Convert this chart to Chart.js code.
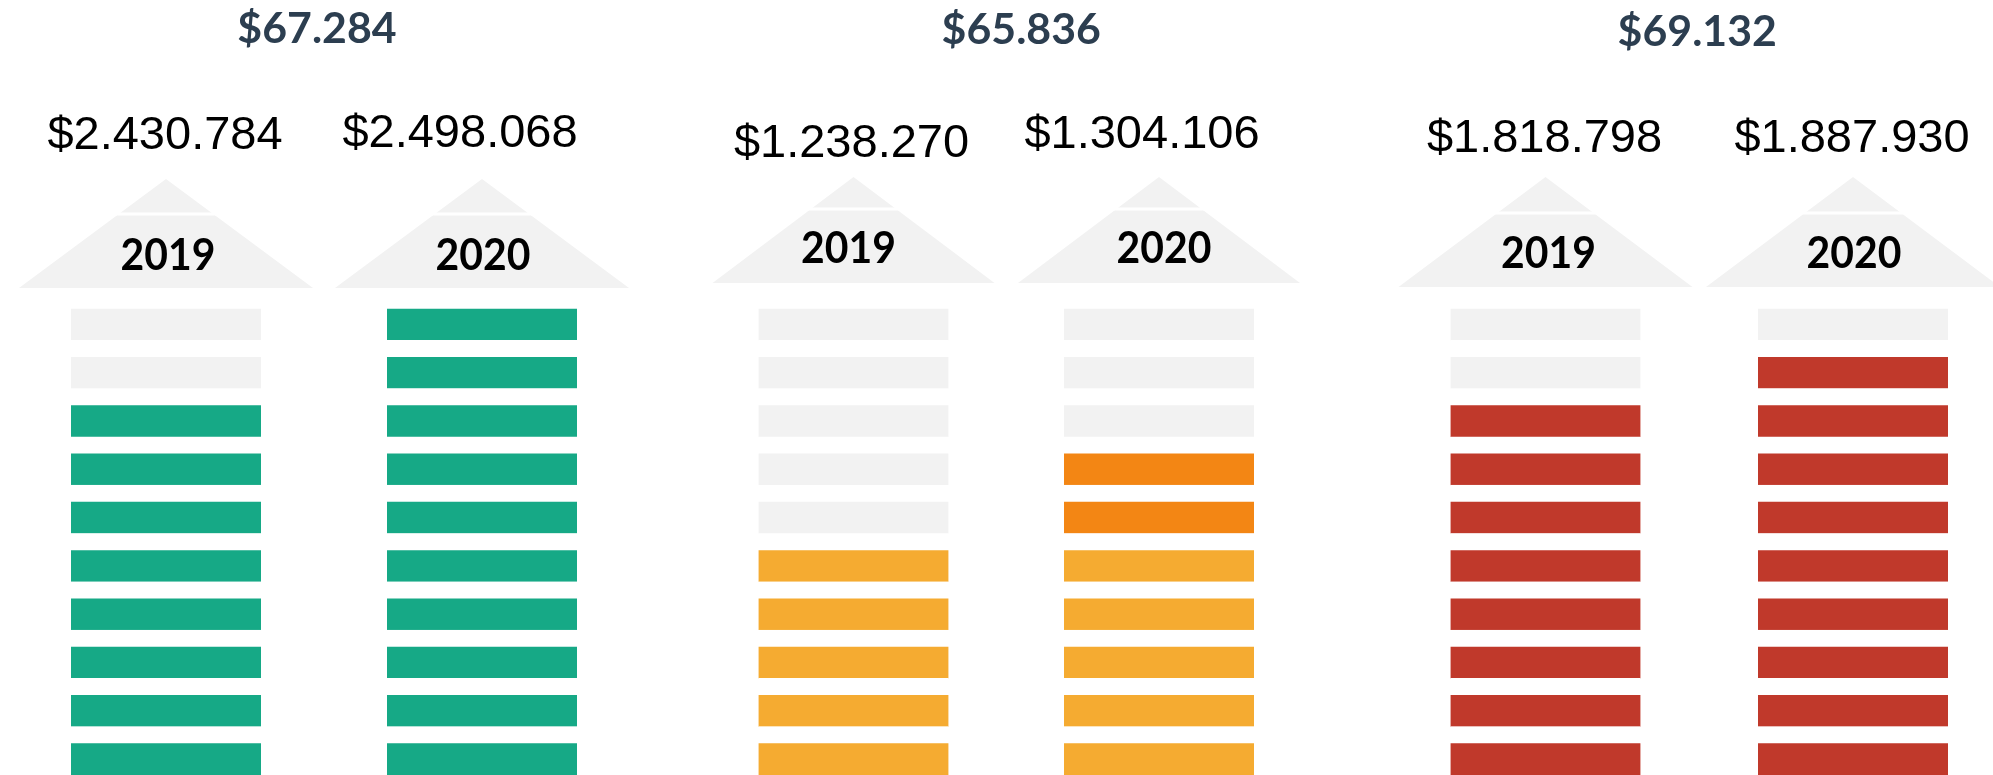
<!DOCTYPE html>
<html>
<head>
<meta charset="utf-8">
<script src="https://cdn.jsdelivr.net/npm/chart.js@4.4.1/dist/chart.umd.min.js"></script>
<style>
    html, body { margin: 0; padding: 0; background: #ffffff; overflow: hidden; }
    .panel { position: absolute; left: 0; top: 0; width: 1993px; height: 775px; }
</style>
</head>
<body>
<div class="panel"><canvas id="panel0"></canvas></div>
<div class="panel"><canvas id="panel1"></canvas></div>
<div class="panel"><canvas id="panel2"></canvas></div>
<script>
// ---- data ----
const titles = ['$67.284', '$65.836', '$69.132'];
const years = ['2019', '2020'];
const valueLabels = [
    ['$2.430.784', '$2.498.068'],
    ['$1.238.270', '$1.304.106'],
    ['$1.818.798', '$1.887.930']
];
const filledBlocks = [[8, 10], [5, 7], [8, 9]];
const highlightBlocks = [[0, 0], [0, 2], [0, 0]];
const TOTAL_BLOCKS = 10;

// ---- styles ----
const baseColors = ['#16A986', '#F5AB31', '#C0392B'];
const highlightColors = ['#16A986', '#F38614', '#C0392B'];
const EMPTY_COLOR = '#F2F2F2';
const ROOF_COLOR = '#F2F2F2';
const TITLE_COLOR = '#2C3E50';

// ---- layout (page pixels) ----
// left / right = centre of the 2019 and 2020 columns (x axis has no offset)
const PAGE_W = 1993;
const AREA_TOP = 292;
const GAP = 17;
const BAR_W = 190;
const layout = [
    { left: 166, right: 482, titleDx: -7, titleBase: 43, valueDx: [-1, -22], valueBase: [149, 147],
      apex: 179, base: 288, half: 147, line: 214, yearBase: 270, yearDx: [2, 1] },
    { left: 853.5, right: 1159, titleDx: 15, titleBase: 44, valueDx: [-2, -17], valueBase: [157, 148],
      apex: 177, base: 283, half: 141, line: 209, yearBase: 263, yearDx: [-5, 5] },
    { left: 1545.5, right: 1853, titleDx: -2, titleBase: 46, valueDx: [-1, -1], valueBase: [152, 152],
      apex: 177, base: 287, half: 147, line: 213, yearBase: 268, yearDx: [3, 1] }
];

function drawText(ctx, text, x, y, font, color, scaleX) {
    ctx.save();
    ctx.translate(x, y);
    ctx.scale(scaleX, 1);
    ctx.font = font;
    ctx.fillStyle = color;
    ctx.textAlign = 'center';
    ctx.textBaseline = 'alphabetic';
    ctx.fillText(text, 0, 0);
    ctx.restore();
}

// roofs, year labels, values and panel title
const housePlugin = {
    id: 'house',
    beforeDatasetsDraw(chart, args, opts) {
        const ctx = chart.ctx;
        const lay = layout[opts.panel];
        const meta = chart.getDatasetMeta(0);
        meta.data.forEach((bar, i) => {
            const x = bar.x;
            ctx.save();
            ctx.fillStyle = ROOF_COLOR;
            ctx.beginPath();
            ctx.moveTo(x, lay.apex);
            ctx.lineTo(x + lay.half, lay.base);
            ctx.lineTo(x - lay.half, lay.base);
            ctx.closePath();
            ctx.fill();
            ctx.fillStyle = '#ffffff';
            ctx.fillRect(x - lay.half, lay.line - 1.5, lay.half * 2, 3);
            ctx.restore();

            drawText(ctx, years[i], x + lay.yearDx[i], lay.yearBase, 'bold 44px Lato', '#000000', 0.93);
            drawText(ctx, valueLabels[opts.panel][i], x + lay.valueDx[i], lay.valueBase[i],
                '47px "Liberation Sans"', '#000000', 1);
        });
        const area = chart.chartArea;
        drawText(ctx, titles[opts.panel], (area.left + area.right) / 2 + lay.titleDx, lay.titleBase,
            'bold 42px Lato', TITLE_COLOR, 1.02);
    }
};

function blockColors(p, level) {
    return years.map((y, i) => {
        const filled = filledBlocks[p][i];
        const plain = filled - highlightBlocks[p][i];
        if (level < plain) return baseColors[p];
        if (level < filled) return highlightColors[p];
        return EMPTY_COLOR;
    });
}

function makePanel(p) {
    const lay = layout[p];
    const datasets = [];
    for (let level = 0; level < TOTAL_BLOCKS; level++) {
        datasets.push({
            label: 'block ' + (level + 1),
            data: years.map(() => 1),
            backgroundColor: blockColors(p, level),
            borderColor: '#ffffff',
            borderWidth: { top: GAP, bottom: 0, left: 0, right: 0 },
            borderSkipped: false,
            barThickness: BAR_W,
            clip: false
        });
    }
    new Chart(document.getElementById('panel' + p), {
        type: 'bar',
        data: { labels: years, datasets: datasets },
        options: {
            responsive: true,
            maintainAspectRatio: false,
            animation: false,
            events: [],
            layout: {
                padding: { top: AREA_TOP, bottom: 0, left: lay.left, right: PAGE_W - lay.right }
            },
            plugins: {
                legend: { display: false },
                tooltip: { enabled: false },
                house: { panel: p }
            },
            scales: {
                x: { stacked: true, display: false, offset: false },
                y: { stacked: true, display: false, min: 0, max: TOTAL_BLOCKS }
            }
        },
        plugins: [housePlugin]
    });
}

titles.forEach((t, p) => makePanel(p));
</script>
</body>
</html>
